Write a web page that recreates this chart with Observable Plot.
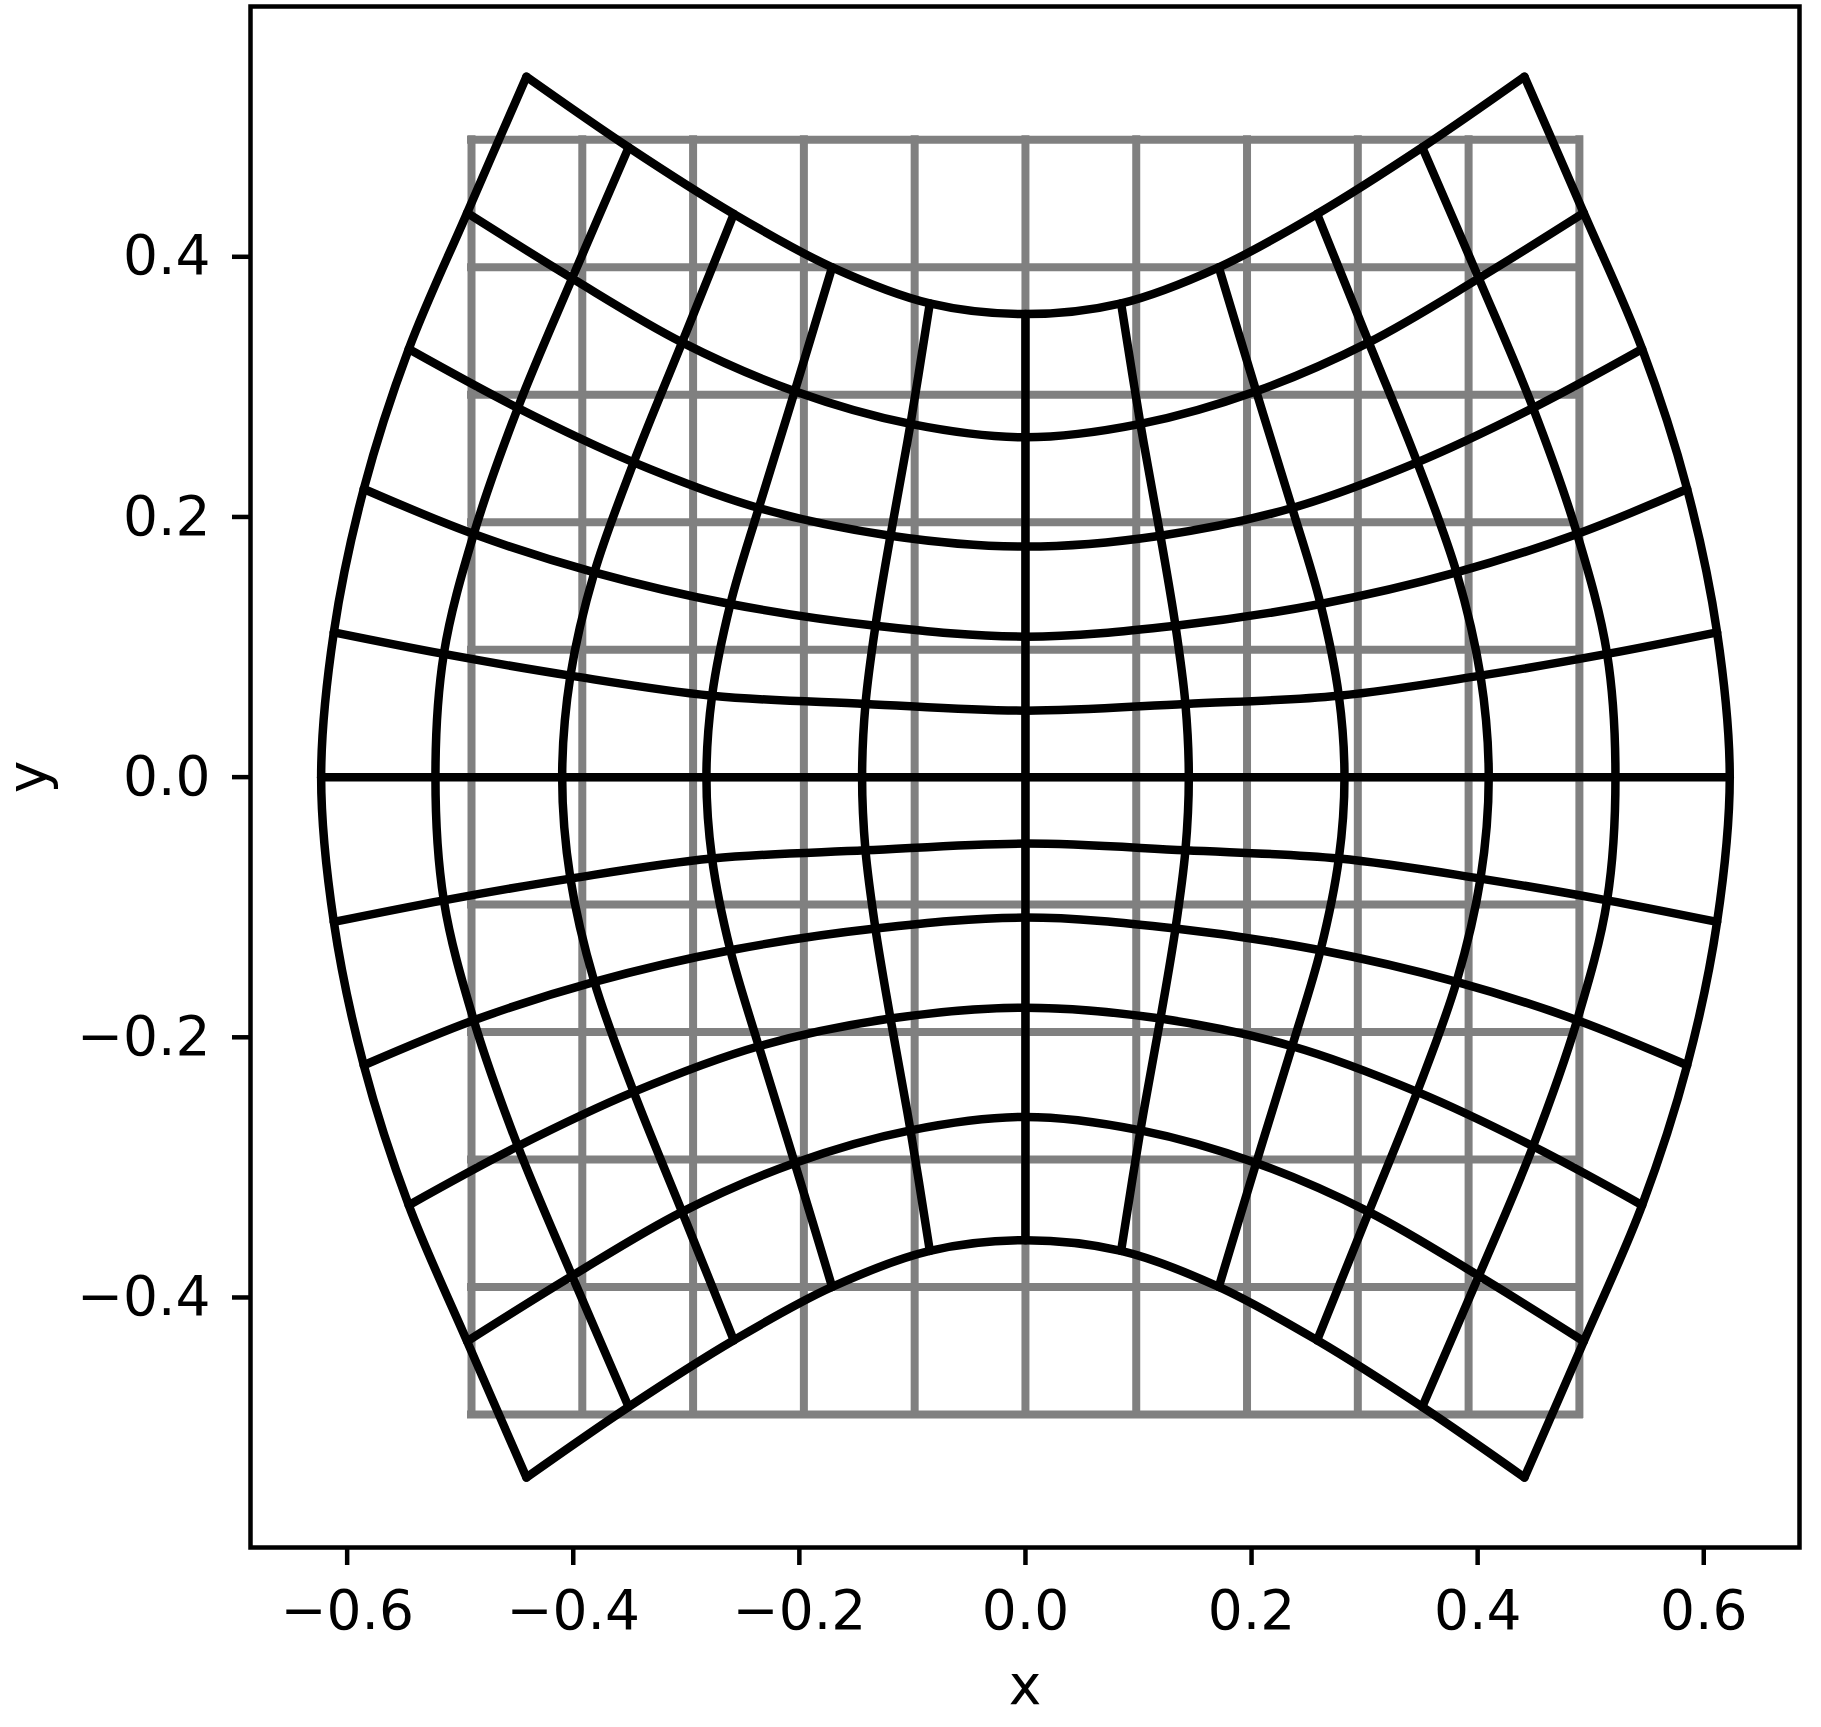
<!DOCTYPE html>
<html>
<head>
<meta charset="utf-8">
<script src="https://cdn.jsdelivr.net/npm/d3@7"></script>
<script src="https://cdn.jsdelivr.net/npm/@observablehq/plot@0.6"></script>
<style>
  html, body { margin: 0; padding: 0; background: #fff; }
  svg { font-family: "DejaVu Sans", sans-serif; display: block; }
</style>
</head>
<body>
<div id="chart"></div>
<script>
// Regular (gray) reference grid lines
const gridX = [-0.49, -0.392, -0.294, -0.196, -0.098, 0, 0.098, 0.196, 0.294, 0.392, 0.49];
const gridY = [-0.49, -0.392, -0.294, -0.196, -0.098, 0, 0.098, 0.196, 0.294, 0.392, 0.49];

// Distorted grid node coordinates (rows top→bottom, columns left→right)
const nodeX = [
  [-0.4414, -0.351, -0.258, -0.171, -0.0846, 0, 0.0846, 0.171, 0.258, 0.351, 0.4414],
  [-0.4939, -0.401, -0.3037, -0.2041, -0.1017, 0, 0.1017, 0.2041, 0.3037, 0.401, 0.4939],
  [-0.5455, -0.449, -0.3465, -0.2359, -0.1194, 0, 0.1194, 0.2359, 0.3465, 0.449, 0.5455],
  [-0.5853, -0.488, -0.3813, -0.261, -0.1327, 0, 0.1327, 0.261, 0.3813, 0.488, 0.5853],
  [-0.6118, -0.5145, -0.4025, -0.2772, -0.1415, 0, 0.1415, 0.2772, 0.4025, 0.5145, 0.6118],
  [-0.623, -0.5219, -0.4098, -0.2822, -0.1445, 0, 0.1445, 0.2822, 0.4098, 0.5219, 0.623],
  [-0.6118, -0.5145, -0.4025, -0.2772, -0.1415, 0, 0.1415, 0.2772, 0.4025, 0.5145, 0.6118],
  [-0.5853, -0.488, -0.3813, -0.261, -0.1327, 0, 0.1327, 0.261, 0.3813, 0.488, 0.5853],
  [-0.5455, -0.449, -0.3465, -0.2359, -0.1194, 0, 0.1194, 0.2359, 0.3465, 0.449, 0.5455],
  [-0.4939, -0.401, -0.3037, -0.2041, -0.1017, 0, 0.1017, 0.2041, 0.3037, 0.401, 0.4939],
  [-0.4414, -0.351, -0.258, -0.171, -0.0846, 0, 0.0846, 0.171, 0.258, 0.351, 0.4414]
];
const nodeY = [
  [0.5384, 0.4841, 0.4329, 0.3919, 0.3642, 0.356, 0.3642, 0.3919, 0.4329, 0.4841, 0.5384],
  [0.4337, 0.3834, 0.3342, 0.2966, 0.2715, 0.2612, 0.2715, 0.2966, 0.3342, 0.3834, 0.4337],
  [0.3291, 0.2838, 0.242, 0.2069, 0.1856, 0.1772, 0.1856, 0.2069, 0.242, 0.2838, 0.3291],
  [0.2215, 0.1869, 0.1574, 0.1331, 0.1164, 0.108, 0.1164, 0.1331, 0.1574, 0.1869, 0.2215],
  [0.1113, 0.0947, 0.078, 0.0626, 0.0563, 0.0511, 0.0563, 0.0626, 0.078, 0.0947, 0.1113],
  [0, 0, 0, 0, 0, 0, 0, 0, 0, 0, 0],
  [-0.1113, -0.0947, -0.078, -0.0626, -0.0563, -0.0511, -0.0563, -0.0626, -0.078, -0.0947, -0.1113],
  [-0.2215, -0.1869, -0.1574, -0.1331, -0.1164, -0.108, -0.1164, -0.1331, -0.1574, -0.1869, -0.2215],
  [-0.3291, -0.2838, -0.242, -0.2069, -0.1856, -0.1772, -0.1856, -0.2069, -0.242, -0.2838, -0.3291],
  [-0.4337, -0.3834, -0.3342, -0.2966, -0.2715, -0.2612, -0.2715, -0.2966, -0.3342, -0.3834, -0.4337],
  [-0.5384, -0.4841, -0.4329, -0.3919, -0.3642, -0.356, -0.3642, -0.3919, -0.4329, -0.4841, -0.5384]
];

const xTicks = [-0.6, -0.4, -0.2, 0.0, 0.2, 0.4, 0.6];
const yTicks = [-0.4, -0.2, 0.0, 0.2, 0.4];
const xLabel = "x";
const yLabel = "y";

const points = nodeX.flatMap((row, j) => row.map((x, i) => ({row: j, col: i, x, y: nodeY[j][i]})));
const fmt = d3.format(".1f");
const gridLo = d3.min(gridY), gridHi = d3.max(gridY);
const gxLo = d3.min(gridX), gxHi = d3.max(gridX);

const chart = Plot.plot({
  width: 1821,
  height: 1727,
  marginLeft: 250,
  marginRight: 22,
  marginTop: 6,
  marginBottom: 180,
  style: {fontFamily: "DejaVu Sans, sans-serif", background: "white"},
  x: {domain: [-0.6855, 0.6847]},
  y: {domain: [-0.5922, 0.5924]},
  marks: [
    Plot.ruleX(gridX, {x: d => d, y1: gridLo, y2: gridHi, stroke: "#808080", strokeWidth: 8, strokeLinecap: "square"}),
    Plot.ruleY(gridY, {y: d => d, x1: gxLo, x2: gxHi, stroke: "#808080", strokeWidth: 8, strokeLinecap: "square"}),
    Plot.line(points, {x: "x", y: "y", z: "row", curve: "catmull-rom", stroke: "black", strokeWidth: 8.5, strokeLinejoin: "round"}),
    Plot.line(points, {x: "x", y: "y", z: "col", curve: "catmull-rom", stroke: "black", strokeWidth: 8.5, strokeLinejoin: "round"}),
    Plot.frame({stroke: "black", strokeWidth: 4.5}),
    Plot.axisX(xTicks, {tickSize: 18, tickPadding: 24, fontSize: 55, tickFormat: fmt, strokeWidth: 4.5, label: null}),
    Plot.axisY(yTicks, {tickSize: 18, tickPadding: 22, fontSize: 55, tickFormat: fmt, strokeWidth: 4.5, label: null}),
    Plot.text([xLabel], {text: d => d, frameAnchor: "bottom", lineAnchor: "middle", textAnchor: "middle", dy: 139, fontSize: 55, fill: "black"}),
    Plot.text([yLabel], {text: d => d, frameAnchor: "left", lineAnchor: "middle", textAnchor: "middle", dx: -222, rotate: -90, fontSize: 55, fill: "black"})
  ]
});
document.getElementById("chart").appendChild(chart);
</script>
</body>
</html>
